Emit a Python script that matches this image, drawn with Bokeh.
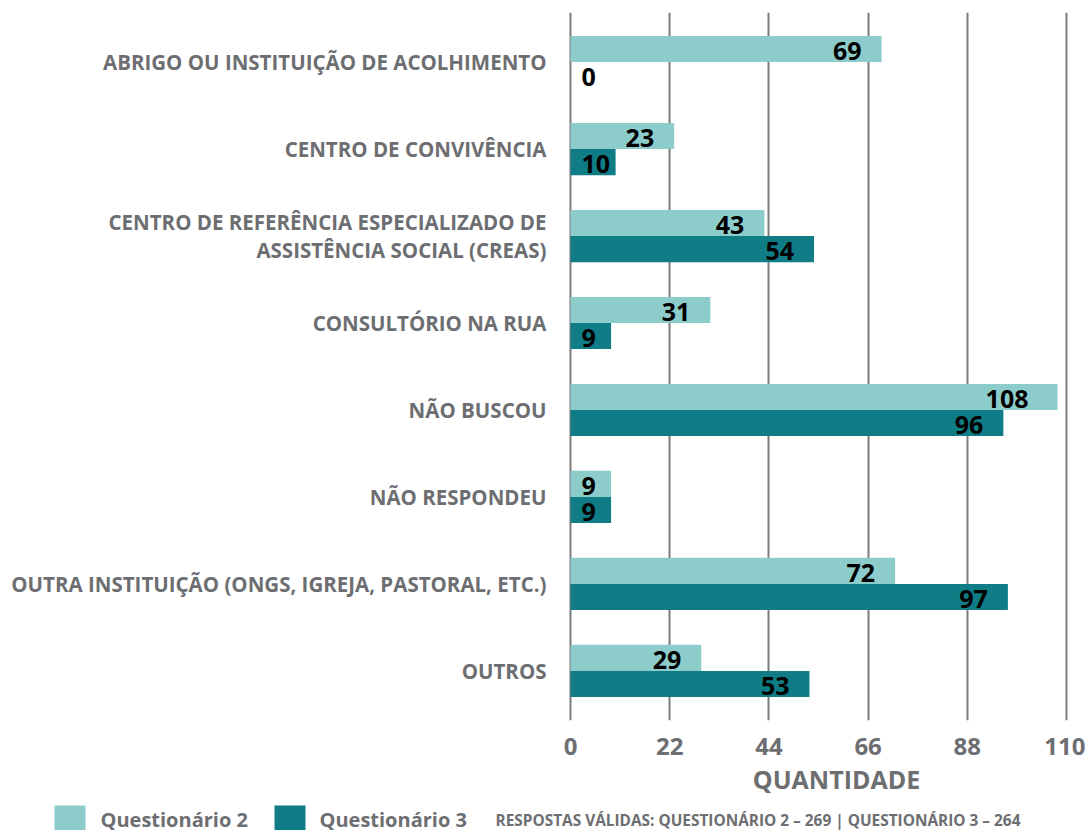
from bokeh.plotting import figure
from bokeh.models import ColumnDataSource, FactorRange, FixedTicker, Range1d
from bokeh.transform import dodge
from bokeh.layouts import column
from bokeh.core.properties import value
from bokeh.embed import file_html
from bokeh.resources import INLINE

# ---------------- data ----------------
categories = [
    "ABRIGO OU INSTITUIÇÃO DE ACOLHIMENTO",
    "CENTRO DE CONVIVÊNCIA",
    "CENTRO DE REFERÊNCIA ESPECIALIZADO DE\nASSISTÊNCIA SOCIAL (CREAS)",
    "CONSULTÓRIO NA RUA",
    "NÃO BUSCOU",
    "NÃO RESPONDEU",
    "OUTRA INSTITUIÇÃO (ONGS, IGREJA, PASTORAL, ETC.)",
    "OUTROS",
]
questionario_2 = [69, 23, 43, 31, 108, 9, 72, 29]
questionario_3 = [0, 10, 54, 9, 96, 9, 97, 53]
series_names = ["Questionário 2", "Questionário 3"]
x_ticks = [0, 22, 44, 66, 88, 110]
x_title = "QUANTIDADE"
note = "RESPOSTAS VÁLIDAS: QUESTIONÁRIO 2 – 269 | QUESTIONÁRIO 3 – 264"

# ---------------- style / geometry ----------------
C2 = "#8ccdcb"
C3 = "#0f7c86"
GRAY = "#6d6e71"
GRID = "#7b7b7d"
FONT = "Open Sans"

W = 1085
ZERO_PX, MAX_PX = 570, 1066          # where 0 and 110 sit on the canvas
kx = (MAX_PX - ZERO_PX) / x_ticks[-1]
X0, X1 = -ZERO_PX / kx, (W - ZERO_PX) / kx
PAD = 0.07
FH = 708

yr = FactorRange(factors=categories[::-1], range_padding=PAD,
                 range_padding_units="absolute")

p = figure(y_range=yr, x_range=Range1d(X0, X1),
           frame_width=W, frame_height=FH,
           min_border_left=0, min_border_right=0,
           min_border_top=12, min_border_bottom=40,
           y_axis_location=None,
           output_backend="svg", toolbar_location=None)
p.outline_line_color = None

src = ColumnDataSource(dict(cat=categories, q2=questionario_2, q3=questionario_3))

p.hbar(y=dodge("cat", 0.15, range=yr), left=0, right="q2", height=0.3,
       fill_color=C2, line_color=None, source=src)
p.hbar(y=dodge("cat", -0.15, range=yr), left=0, right="q3", height=0.3,
       fill_color=C3, line_color=None, source=src)

# category labels, right-aligned left of the zero line
p.text(x=0, y="cat", text="cat", source=src, x_offset=-24,
       text_align="right", text_baseline="middle", text_font=value(FONT),
       text_font_style="bold", text_font_size="20.5px", text_color=GRAY,
       text_line_height=1.0)


def label_sources(vals):
    inside = dict(cat=[], v=[], t=[], off=[])
    start = dict(cat=[], v=[], t=[])
    for c, v in zip(categories, vals):
        t = str(v)
        if v * kx >= 30 + 14 * len(t):
            inside["cat"].append(c)
            inside["v"].append(v)
            inside["t"].append(t)
            inside["off"].append(-20 if len(t) < 3 else -29)
        else:
            start["cat"].append(c)
            start["v"].append(0)
            start["t"].append(t)
    return ColumnDataSource(inside), ColumnDataSource(start)


for vals, off in ((questionario_2, 0.13), (questionario_3, -0.17)):
    s_in, s_st = label_sources(vals)
    common = dict(text="t", text_baseline="middle", text_font=value(FONT),
                  text_font_style="bold", text_font_size="25px",
                  text_color="black")
    p.text(x="v", y=dodge("cat", off, range=yr), text_align="right",
           x_offset="off", source=s_in, **common)
    p.text(x="v", y=dodge("cat", off, range=yr), text_align="left",
           x_offset=11, source=s_st, **common)

p.xaxis.ticker = FixedTicker(ticks=x_ticks)
p.xgrid.ticker = FixedTicker(ticks=x_ticks)
p.xgrid.grid_line_color = GRID
p.xgrid.grid_line_width = 2
p.ygrid.grid_line_color = None
p.xaxis.axis_line_color = None
p.xaxis.major_tick_line_color = None
p.xaxis.minor_tick_line_color = None
p.xaxis.major_label_text_font = FONT
p.xaxis.major_label_text_font_style = "bold"
p.xaxis.major_label_text_color = GRAY
p.xaxis.major_label_text_font_size = "24px"
p.xaxis.major_label_standoff = 11

# ---------------- footer (axis title, legend, note) ----------------
H2 = 70
p2 = figure(x_range=Range1d(0, W), y_range=Range1d(0, H2),
            frame_width=W, frame_height=H2, min_border=0,
            x_axis_location=None, y_axis_location=None,
            output_backend="svg", toolbar_location=None)
p2.outline_line_color = None
p2.grid.visible = False

txt = dict(text_font=value(FONT), text_font_style="bold", text_color=GRAY,
           text_baseline="middle", text_align="left")

p2.text(x=[836], y=[52], text=[x_title], text_font_size="25px",
        **{**txt, "text_align": "center"})
p2.quad(left=[54, 274], right=[85, 305], bottom=[0, 0], top=[25, 25],
        fill_color=[C2, C3], line_color=None)
p2.text(x=[100, 319], y=[11, 11], text=series_names, text_font_size="20px", **txt)
p2.text(x=[495], y=[10], text=[note], text_font_size="15.4px", **txt)

layout = column(p, p2, spacing=0)
open("out.html", "w").write(file_html(layout, INLINE))
